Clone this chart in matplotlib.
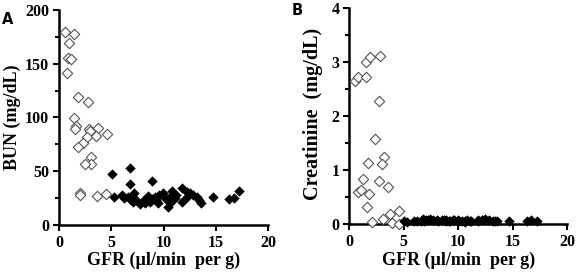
import matplotlib
matplotlib.use("Agg")
import matplotlib.pyplot as plt
from matplotlib.ticker import MultipleLocator

# --------------------------------------------------------------------
# Data
# --------------------------------------------------------------------

# Panel A, open diamonds (low GFR)
gfr_open_a = [0.57, 1.43, 0.96, 0.83, 1.15, 0.76, 1.78, 2.8, 1.43, 1.63, 1.53, 2.9, 3.76,
              2.96, 2.7, 3.5, 4.55, 2.3, 1.85, 3.1, 3.06, 2.48, 2.0, 2.05, 3.66, 4.5]
bun_open = [179.8, 177.7, 169, 155, 154, 141.7, 119, 114, 99.8, 92, 89, 89, 90,
            87, 81.5, 83, 84.7, 76.6, 72.9, 63.6, 56.7, 56.4, 30, 28, 27, 28.5]

# Filled diamonds (normal GFR), shared by both panels
gfr_filled = [5.03, 6.78, 6.78, 8.85, 5.29, 6.2, 7.2, 7.4, 8.1, 8.2, 6.9, 7.7, 8.7, 9.2,
              9.6, 9.97, 10.1, 10.4, 10.6, 10.8, 10.6, 9.3, 11.8, 11.8, 12.2, 12.5, 12.8,
              13.2, 13.6, 14.7, 16.3, 16.7, 17.2, 8.5, 6.6, 6.0, 7.1, 8.85, 9.5, 11.08,
              11.2, 12.2, 13.35]
bun_filled = [47.4, 52.7, 37.8, 41, 26.4, 24.8, 29.5, 23, 23, 20, 23, 19.5, 21.7, 26.4,
              28, 29.5, 24.8, 17, 20, 32, 26.4, 23, 34, 21.7, 26.4, 30, 28,
              26.4, 20.8, 25.7, 23.9, 24.8, 31.6, 27, 26.4, 28, 21.7, 24, 20, 24.8,
              28, 31, 23]
creat_filled = [0.05, 0.07, 0.09, 0.08, 0.04, 0.06, 0.08, 0.10, 0.07, 0.05, 0.06, 0.08, 0.07, 0.06,
                0.08, 0.07, 0.05, 0.06, 0.04, 0.07, 0.05, 0.06, 0.08, 0.06, 0.07, 0.09, 0.08,
                0.06, 0.05, 0.06, 0.05, 0.07, 0.06, 0.07, 0.06, 0.05, 0.08, 0.06, 0.07, 0.05,
                0.06, 0.07, 0.05]

# Panel B, open diamonds
gfr_open_b = [0.58, 0.86, 1.56, 1.56, 1.93, 2.85, 2.7, 2.39, 1.72, 3.22, 3.0, 1.23,
              2.7, 0.86, 1.1, 1.78, 3.6, 1.62, 4.6, 3.77, 3.15, 2.08, 3.92, 4.55]
creat_open = [2.64, 2.73, 2.72, 3.0, 3.09, 3.12, 2.27, 1.57, 1.14, 1.25, 1.11, 0.83,
              0.80, 0.60, 0.63, 0.56, 0.68, 0.32, 0.24, 0.18, 0.10, 0.04, 0.025, 0.01]

serif = "Liberation Serif"


def style_axes(ax, ymax, ymajor, ylabel, ylabel_size):

    ax.set_xlim(0, 20)
    ax.set_ylim(0, ymax)
    ax.xaxis.set_major_locator(MultipleLocator(5))
    ax.yaxis.set_major_locator(MultipleLocator(ymajor))
    ax.yaxis.set_minor_locator(MultipleLocator(ymajor / 2))

    for side in ["top", "right"]:
        ax.spines[side].set_visible(False)
    for side in ["left", "bottom"]:
        ax.spines[side].set_linewidth(1.8)

    ax.tick_params(which="major", direction="out", length=4, width=1.5, pad=3)
    ax.tick_params(which="minor", direction="out", length=3, width=1.5)

    for lab in ax.get_xticklabels() + ax.get_yticklabels():
        lab.set_fontfamily(serif)
        lab.set_fontweight("bold")
        lab.set_fontsize(11.5)

    ax.set_xlabel("GFR (\u00b5l/min  per g)", fontfamily=serif, fontweight="bold",
                  fontsize=13, labelpad=1)
    ax.set_ylabel(ylabel, fontfamily=serif, fontweight="bold", fontsize=ylabel_size,
                  labelpad=3)


fig = plt.figure(figsize=(5.78, 2.74), dpi=100)

ax_a = fig.add_axes([0.102, 0.179, 0.362, 0.785])
ax_b = fig.add_axes([0.604, 0.182, 0.377, 0.789])

open_kw = dict(marker="D", s=28, facecolors="white", edgecolors="#555555", linewidths=0.8,
               zorder=3, clip_on=False)
fill_kw = dict(marker="D", s=28, color="black", linewidths=0, zorder=3, clip_on=False)

ax_a.scatter(gfr_open_a, bun_open, **open_kw)
ax_a.scatter(gfr_filled, bun_filled, **fill_kw)
style_axes(ax_a, 200, 50, "BUN (mg/dL)", 13)

ax_b.scatter(gfr_open_b, creat_open, **open_kw)
ax_b.scatter(gfr_filled, creat_filled, **fill_kw)
style_axes(ax_b, 4, 1, "Creatinine  (mg/dL)", 14.5)
ax_b.yaxis.set_label_coords(-0.12, 0.51)

fig.text(0.003, 0.955, "A", fontsize=10.5, fontweight="bold", fontfamily="DejaVu Sans",
         va="top", ha="left")
fig.text(0.505, 0.99, "B", fontsize=10.5, fontweight="bold", fontfamily="DejaVu Sans",
         va="top", ha="left")

fig.savefig("out.png", dpi=100)
